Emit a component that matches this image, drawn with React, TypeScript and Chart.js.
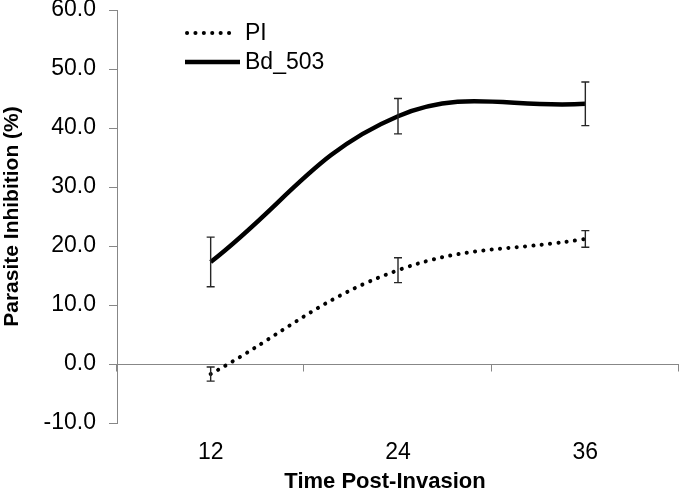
import React, { useEffect, useRef } from "react";
import { Chart, registerables } from "chart.js";

Chart.register(...registerables);

const categories = ["12", "24", "36"];
const piValues = [-1.7, 15.9, 21.2];
const piErrors = [1.2, 2.1, 1.4];
const bdValues = [17.3, 42.0, 44.1];
const bdErrors = [4.2, 3.0, 3.7];
const yTicks = { min: -10, max: 60, step: 10 };
const xTitle = "Time Post-Invasion";
const yTitle = "Parasite Inhibition (%)";

const FONT = "'Liberation Sans', Arial, sans-serif";
const AXIS_GRAY = "#878787";

const errorBarPlugin = {
  id: "errorBars",
  afterDatasetsDraw(chart: any) {
    const { ctx } = chart;
    const y = chart.scales.y;
    chart.data.datasets.forEach((ds: any, di: number) => {
      const meta = chart.getDatasetMeta(di);
      const errs: number[] = ds.errors || [];
      meta.data.forEach((pt: any, i: number) => {
        const v = ds.data[i];
        const e = errs[i];
        if (e == null) return;
        const yt = y.getPixelForValue(v + e);
        const yb = y.getPixelForValue(v - e);
        const x = pt.x;
        const cap = 4;
        ctx.save();
        ctx.strokeStyle = "#262626";
        ctx.lineWidth = 1.4;
        ctx.beginPath();
        ctx.moveTo(x, yt);
        ctx.lineTo(x, yb);
        ctx.moveTo(x - cap, yt);
        ctx.lineTo(x + cap, yt);
        ctx.moveTo(x - cap, yb);
        ctx.lineTo(x + cap, yb);
        ctx.stroke();
        ctx.restore();
      });
    });
  },
};

const zeroAxisPlugin = {
  id: "zeroAxis",
  beforeDatasetsDraw(chart: any) {
    const { ctx, chartArea } = chart;
    const x = chart.scales.x;
    const y = chart.scales.y;
    const y0 = Math.round(y.getPixelForValue(0)) + 0.5;
    ctx.save();
    ctx.strokeStyle = AXIS_GRAY;
    ctx.lineWidth = 1;
    ctx.beginPath();
    ctx.moveTo(chartArea.left, y0);
    ctx.lineTo(chartArea.right, y0);
    const n = categories.length;
    const half = (x.getPixelForValue(1) - x.getPixelForValue(0)) / 2;
    for (let i = 0; i <= n; i++) {
      const bx = Math.round(x.getPixelForValue(0) - half + i * 2 * half) - 0.5;
      ctx.moveTo(bx, y0);
      ctx.lineTo(bx, y0 + 7);
    }
    ctx.stroke();
    ctx.restore();
  },
};

const xTitlePlugin = {
  id: "xTitle",
  afterDraw(chart: any) {
    const { ctx } = chart;
    ctx.save();
    ctx.fillStyle = "#000";
    ctx.font = `bold 22px ${FONT}`;
    ctx.textAlign = "center";
    ctx.textBaseline = "middle";
    ctx.fillText(xTitle, 385, 482);
    ctx.restore();
  },
};

const legendPlugin = {
  id: "insideLegend",
  afterDraw(chart: any) {
    const { ctx } = chart;
    const x0 = 185;
    const x1 = 240;
    const rows = [33, 62];
    chart.data.datasets.forEach((ds: any, i: number) => {
      const yy = rows[i];
      ctx.save();
      ctx.strokeStyle = ds.borderColor;
      ctx.lineWidth = ds.borderWidth;
      ctx.lineCap = ds.borderCapStyle || "butt";
      ctx.setLineDash(ds.borderDash || []);
      ctx.beginPath();
      ctx.moveTo(x0 + (ds.borderDash ? 2 : 0), yy);
      ctx.lineTo(ds.borderDash ? 234 : x1, yy);
      ctx.stroke();
      ctx.setLineDash([]);
      ctx.fillStyle = "#000";
      ctx.font = `23px ${FONT}`;
      ctx.textBaseline = "middle";
      ctx.textAlign = "left";
      ctx.fillText(ds.label, 245, yy + 1);
      ctx.restore();
    });
  },
};

export default function App() {
  const ref = useRef<HTMLCanvasElement | null>(null);

  useEffect(() => {
    if (!ref.current) return;
    const chart = new Chart(ref.current, {
      type: "line",
      data: {
        labels: categories,
        datasets: [
          {
            label: "PI",
            data: piValues,
            errors: piErrors,
            borderColor: "#000",
            borderWidth: 4,
            borderDash: [0.1, 8.3],
            borderCapStyle: "round",
            pointRadius: 0,
            tension: 0.4,
            fill: false,
          } as any,
          {
            label: "Bd_503",
            data: bdValues,
            errors: bdErrors,
            borderColor: "#000",
            borderWidth: 4.5,
            pointRadius: 0,
            tension: 0.4,
            fill: false,
          } as any,
        ],
      },
      options: {
        animation: false,
        responsive: false,
        devicePixelRatio: 1,
        layout: { padding: { top: 0, right: 1, left: 0, bottom: 0 } },
        plugins: {
          legend: { display: false },
          tooltip: { enabled: false },
        },
        scales: {
          x: {
            type: "category",
            offset: true,
            grid: { display: false },
            border: { display: false },
            ticks: {
              color: "#000",
              font: { family: FONT, size: 23, lineHeight: 1.2 },
              padding: 8,
              maxRotation: 0,
            },
            title: { display: false, text: xTitle },
            afterFit(scale: any) {
              scale.height = 69;
            },
          },
          y: {
            min: yTicks.min,
            max: yTicks.max,
            grid: {
              drawOnChartArea: false,
              drawTicks: true,
              tickLength: 8,
              color: AXIS_GRAY,
            },
            border: { display: true, color: AXIS_GRAY, width: 1 },
            ticks: {
              stepSize: yTicks.step,
              color: "#000",
              font: { family: FONT, size: 23, lineHeight: 0.9 },
              padding: 13,
              callback: (v: any) => Number(v).toFixed(1),
            },
            title: {
              display: true,
              text: yTitle,
              color: "#000",
              font: { family: FONT, size: 21, weight: "bold", lineHeight: 1.2 },
              padding: 0,
            },
            afterFit(scale: any) {
              scale.width = 117;
              scale.paddingTop = 10;
              scale.paddingBottom = 0;
            },
          },
        },
      } as any,
      plugins: [zeroAxisPlugin, errorBarPlugin, legendPlugin, xTitlePlugin],
    });
    return () => chart.destroy();
  }, []);

  return (
    <div style={{ position: "absolute", left: 0, top: 0, width: 680, height: 492, background: "#fff" }}>
      <canvas ref={ref} width={680} height={492} />
    </div>
  );
}
